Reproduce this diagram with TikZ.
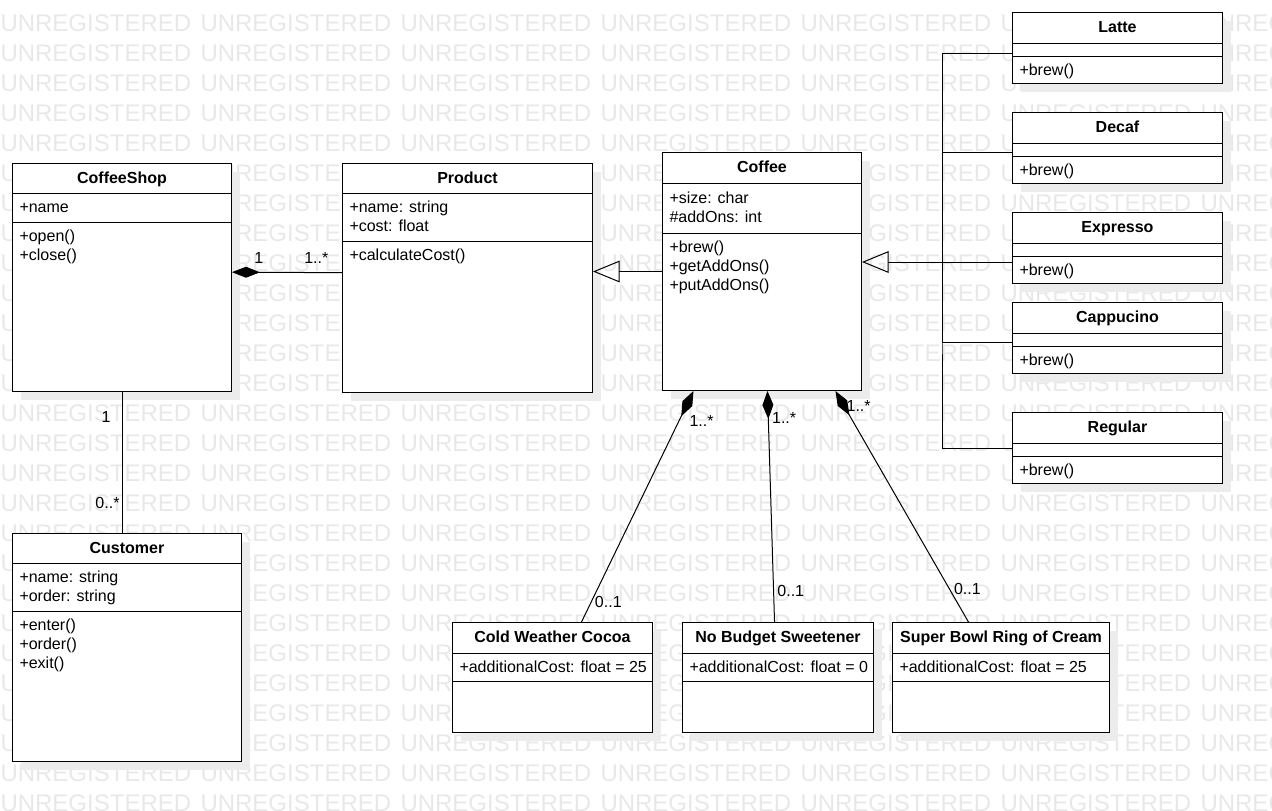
\documentclass[tikz,border=0pt]{standalone}
\usepackage{fontspec}
\setmainfont{Liberation Sans}
\usetikzlibrary{arrows.meta, positioning, shadows}
\definecolor{wmgray}{RGB}{232,232,232}
\definecolor{shadowgray}{RGB}{236,236,236}
% member lines, aligned on the first baseline
\newcommand{\mlines}[1]{\begin{tabular}[t]{@{}l@{}}#1\end{tabular}}

\begin{document}
\begin{tikzpicture}[
        x=0.75pt, y=-0.75pt,
        font=\fontsize{12}{14.25}\selectfont,
        line width=0.75pt,
        watermark/.style={anchor=base west, inner sep=0pt, text=wmgray,
            font=\fontsize{18}{20}\selectfont},
        class box/.style={draw, fill=white, inner sep=0pt, anchor=north west,
            drop shadow={shadow xshift=6pt, shadow yshift=-6pt,
                fill=shadowgray, opacity=1}},
        box size/.style 2 args={minimum width=#1*0.75pt, minimum height=#2*0.75pt},
        class name/.style={font=\fontsize{12}{14.25}\selectfont\bfseries, anchor=base, inner sep=0pt},
        members/.style={anchor=base west, inner sep=0pt},
        mult/.style={inner sep=1.5pt},
        comp/.style={-{Diamond[length=21pt, width=8.25pt]}},
        inherit/.style={-{Triangle[open, length=20pt, width=16.3pt]}},
    ]
        \useasboundingbox (0,0) rectangle (1272,811);

        % Watermark rows
        \foreach \r in {1,...,27}
            \foreach \c in {0,...,6}
                \node[watermark] (wm-\r-\c) at (200*\c, 1+30*\r) {UNREGISTERED};

        % CoffeeShop
        \node[class box, box size={219}{228}] (shop) at (12,163) {};
        \node[class name] (shop-name) at ([yshift=-15pt]shop.north) {CoffeeShop};
        \draw (12,193) -- (231,193);
        \draw (12,222) -- (231,222);
        \node[members] (shop-attr) at (19,212) {+name};
        \node[members] (shop-ops) at (19,241) {\mlines{+open()\\+close()}};

        % Product
        \node[class box, box size={250}{229}] (prod) at (342,163) {};
        \node[class name] (prod-name) at ([yshift=-15pt]prod.north) {Product};
        \draw (342,193) -- (592,193);
        \draw (342,241) -- (592,241);
        \node[members] (prod-attr) at (349,212) {\mlines{+name: string\\+cost: float}};
        \node[members] (prod-ops) at (349,260) {+calculateCost()};

        % Coffee
        \node[class box, box size={199}{238}] (coffee) at (662,152) {};
        \node[class name] (coffee-name) at ([yshift=-15pt]coffee.north) {Coffee};
        \draw (662,183) -- (861,183);
        \draw (662,233) -- (861,233);
        \node[members] (coffee-attr) at (669,203) {\mlines{+size: char\\\#addOns: int}};
        \node[members] (coffee-ops) at (669,252) {\mlines{+brew()\\+getAddOns()\\+putAddOns()}};

        % Coffee kinds
        \foreach \id/\y/\nm in {latte/12/Latte, decaf/112/Decaf, expr/212/Expresso,
                capp/302/Cappucino, reg/412/Regular} {
            \node[class box, box size={210}{71}] (\id) at (1012,\y) {};
            \node[class name] (\id-name) at ([yshift=-15pt]\id.north) {\nm};
            \draw (1012,\y+31) -- (1222,\y+31);
            \draw (1012,\y+44) -- (1222,\y+44);
            \node[members] (\id-ops) at (1019,\y+63) {+brew()};
        }

        % Customer
        \node[class box, box size={229}{228}] (cust) at (12,533) {};
        \node[class name] (cust-name) at ([yshift=-15pt]cust.north) {Customer};
        \draw (12,563) -- (241,563);
        \draw (12,611) -- (241,611);
        \node[members] (cust-attr) at (19,582) {\mlines{+name: string\\+order: string}};
        \node[members] (cust-ops) at (19,630) {\mlines{+enter()\\+order()\\+exit()}};

        % Add-ons
        \node[class box, box size={200}{110}] (cocoa) at (452,622) {};
        \node[class name] (cocoa-name) at ([yshift=-15pt]cocoa.north) {Cold Weather Cocoa};
        \draw (452,653) -- (652,653);
        \draw (452,681) -- (652,681);
        \node[members] (cocoa-attr) at (459,672) {+additionalCost: float = 25};

        \node[class box, box size={191}{110}] (sweet) at (682,622) {};
        \node[class name] (sweet-name) at ([yshift=-15pt]sweet.north) {No Budget Sweetener};
        \draw (682,653) -- (873,653);
        \draw (682,681) -- (873,681);
        \node[members] (sweet-attr) at (689,672) {+additionalCost: float = 0};

        \node[class box, box size={217}{110}] (cream) at (892,622) {};
        \node[class name] (cream-name) at ([yshift=-15pt]cream.north) {Super Bowl Ring of Cream};
        \draw (892,653) -- (1109,653);
        \draw (892,681) -- (1109,681);
        \node[members] (cream-attr) at (899,672) {+additionalCost: float = 25};

        % Associations
        \draw[comp] ([yshift=4pt]prod.west) -- ([yshift=4pt]shop.east)
            node[mult, pos=0.234, above=5pt] {1..*}
            node[mult, pos=0.757, above=5pt] {1};
        \draw (shop.south) -- (shop.south |- cust.north)
            node[mult, pos=0.18, left=6.75pt] {1}
            node[mult, pos=0.79, left=0pt] {0..*};

        % Generalizations
        \draw[inherit] (coffee.west) -- (coffee.west -| prod.east);
        \coordinate (trunk) at (942,262);
        \draw ([yshift=-3.75pt]latte.west) -| (trunk) |- (reg.west);
        \draw ([yshift=-3.4pt]decaf.west) -| (trunk);
        \draw ([yshift=-3.4pt]capp.west) -| (trunk);
        \draw (expr.west |- trunk) -- (trunk);
        \draw[inherit] (trunk) -- (trunk -| coffee.east);

        % Compositions of add-ons
        \draw[comp] ([xshift=21.75pt]cocoa.north) -- ([xshift=-51.4pt]coffee.south)
            node[mult, pos=0.086, right=1pt] {0..1}
            node[mult, pos=0.871, right=6pt] {1..*};
        \draw[comp] ([xshift=-2.6pt]sweet.north) -- ([xshift=4.1pt]coffee.south)
            node[mult, pos=0.134, right=1pt] {0..1}
            node[mult, pos=0.884, right=1pt] {1..*};
        \draw[comp] ([xshift=-24.4pt]cream.north) -- ([xshift=55.1pt]coffee.south)
            node[mult, pos=0.142, right=1.5pt] {0..1}
            node[mult, pos=0.935, right=0pt] {1..*};
    \end{tikzpicture}
\end{document}
